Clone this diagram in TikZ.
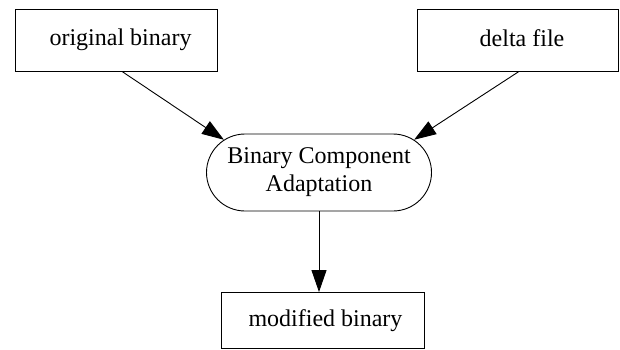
\documentclass[tikz,border=0pt]{standalone}
\usepackage{fontspec}
\setmainfont{Liberation Serif}
\usetikzlibrary{arrows.meta,shapes.misc}
\begin{document}
\begin{tikzpicture}[x=1pt,y=1pt,
  box/.style={draw,line width=0.9pt,rectangle,inner sep=0pt,font=\fontsize{24}{28}\selectfont},
  proc/.style={draw,line width=0.9pt,rounded rectangle,rounded rectangle arc length=180,inner sep=0pt,
    minimum width=225pt,minimum height=77pt,align=center,font=\fontsize{24}{28}\selectfont},
  edge/.style={line width=0.9pt,-{Triangle[length=22pt,width=15pt]}}]
\useasboundingbox (0,0) rectangle (620,-350);
\node[box,minimum width=202pt,minimum height=62pt] (ob) at (116,-40) {\hspace*{9pt}\raisebox{3pt}{original binary}};
\node[box,minimum width=201pt,minimum height=62pt] (df) at (517.5,-40) {\hspace*{9pt}\raisebox{3pt}{delta file}};
\node[proc] (bca) at (319,-172.5) {Binary Component\\Adaptation};
\node[box,minimum width=203pt,minimum height=56pt] (mb) at (322.5,-320.5) {\hspace*{6pt}\raisebox{2pt}{modified binary}};
\draw[edge] ([xshift=6pt]ob.south) -- (bca.161);
\draw[edge] ([xshift=1.5pt]df.south) -- (bca.19);
\draw[edge] (bca.south) -- (bca.south |- mb.north);
\end{tikzpicture}
\end{document}
